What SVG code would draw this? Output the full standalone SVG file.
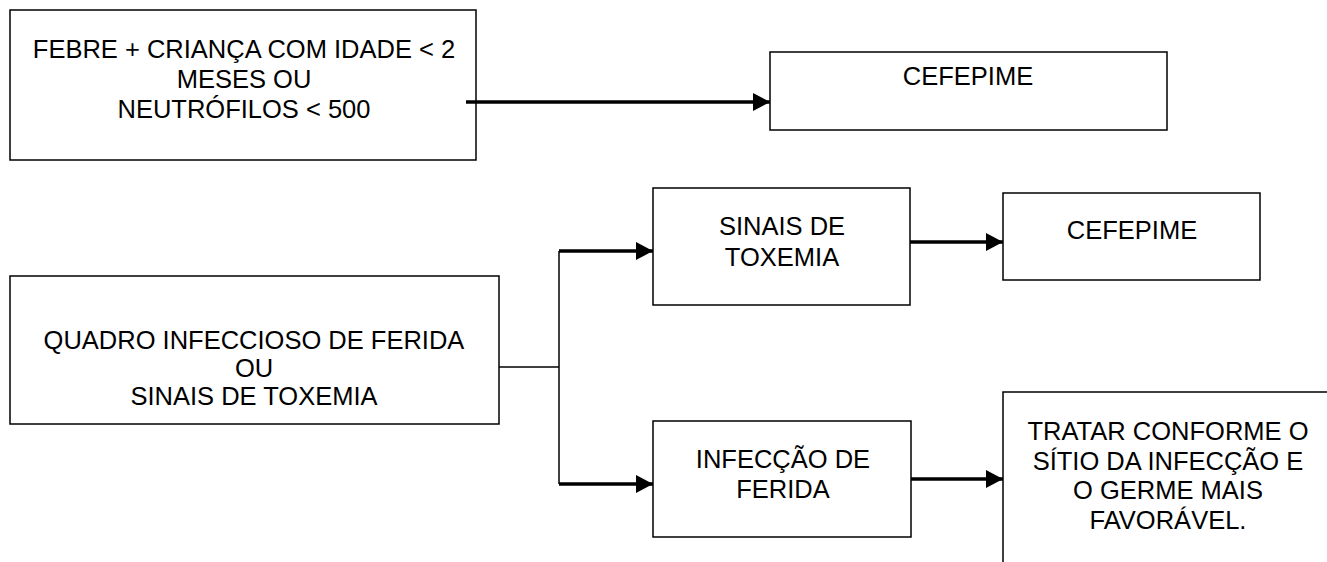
<svg xmlns="http://www.w3.org/2000/svg" width="1327" height="562" viewBox="0 0 1327 562">
<style>
.box{fill:#fff;stroke:#000;stroke-width:1.5}
.t{font-family:"Liberation Sans",Arial,sans-serif;font-size:25.5px;fill:#000;text-anchor:middle}
.arr{stroke:#000;stroke-width:3.5;fill:none;marker-end:url(#ah)}
.ln{stroke:#000;stroke-width:1.5;fill:none}
</style>
<defs>
<marker id="ah" markerUnits="userSpaceOnUse" markerWidth="17" markerHeight="18" refX="17" refY="9" orient="auto">
<path d="M0,0 L17,9 L0,18 z" fill="#000"/>
</marker>
</defs>
<rect width="1327" height="562" fill="#fff"/>
<g id="n1">
<rect class="box" x="10" y="10" width="466" height="150"/>
<text class="t" x="244" y="58">FEBRE + CRIANÇA COM IDADE &lt; 2</text>
<text class="t" x="244" y="88">MESES OU</text>
<text class="t" x="244" y="118">NEUTRÓFILOS &lt; 500</text>
</g>
<g id="n2">
<rect class="box" x="770" y="52" width="397" height="78"/>
<text class="t" x="968" y="85">CEFEPIME</text>
</g>
<g id="n3">
<rect class="box" x="10" y="276" width="489" height="148"/>
<text class="t" x="254" y="349">QUADRO INFECCIOSO DE FERIDA</text>
<text class="t" x="254" y="377">OU</text>
<text class="t" x="254" y="405">SINAIS DE TOXEMIA</text>
</g>
<g id="n4">
<rect class="box" x="653" y="188" width="257" height="117"/>
<text class="t" x="782" y="235">SINAIS DE</text>
<text class="t" x="782" y="266">TOXEMIA</text>
</g>
<g id="n5">
<rect class="box" x="1003" y="193" width="257" height="87"/>
<text class="t" x="1132" y="239">CEFEPIME</text>
</g>
<g id="n6">
<rect class="box" x="653" y="421" width="258" height="116"/>
<text class="t" x="783" y="468">INFECÇÃO DE</text>
<text class="t" x="783" y="498">FERIDA</text>
</g>
<g id="n7">
<rect class="box" x="1003" y="392" width="340" height="200"/>
<text class="t" x="1168" y="440">TRATAR CONFORME O</text>
<text class="t" x="1168" y="470">SÍTIO DA INFECÇÃO E</text>
<text class="t" x="1168" y="499">O GERME MAIS</text>
<text class="t" x="1168" y="529">FAVORÁVEL.</text>
</g>
<g id="connectors">
<path class="arr" d="M466,102 L770,102"/>
<path class="ln" d="M499,367 L559,367"/>
<path class="ln" d="M559,251 L559,484"/>
<path class="arr" d="M559,251 L653,251"/>
<path class="arr" d="M559,484 L653,484"/>
<path class="arr" d="M910,242 L1003,242"/>
<path class="arr" d="M911,479 L1003,479"/>
</g>
</svg>
